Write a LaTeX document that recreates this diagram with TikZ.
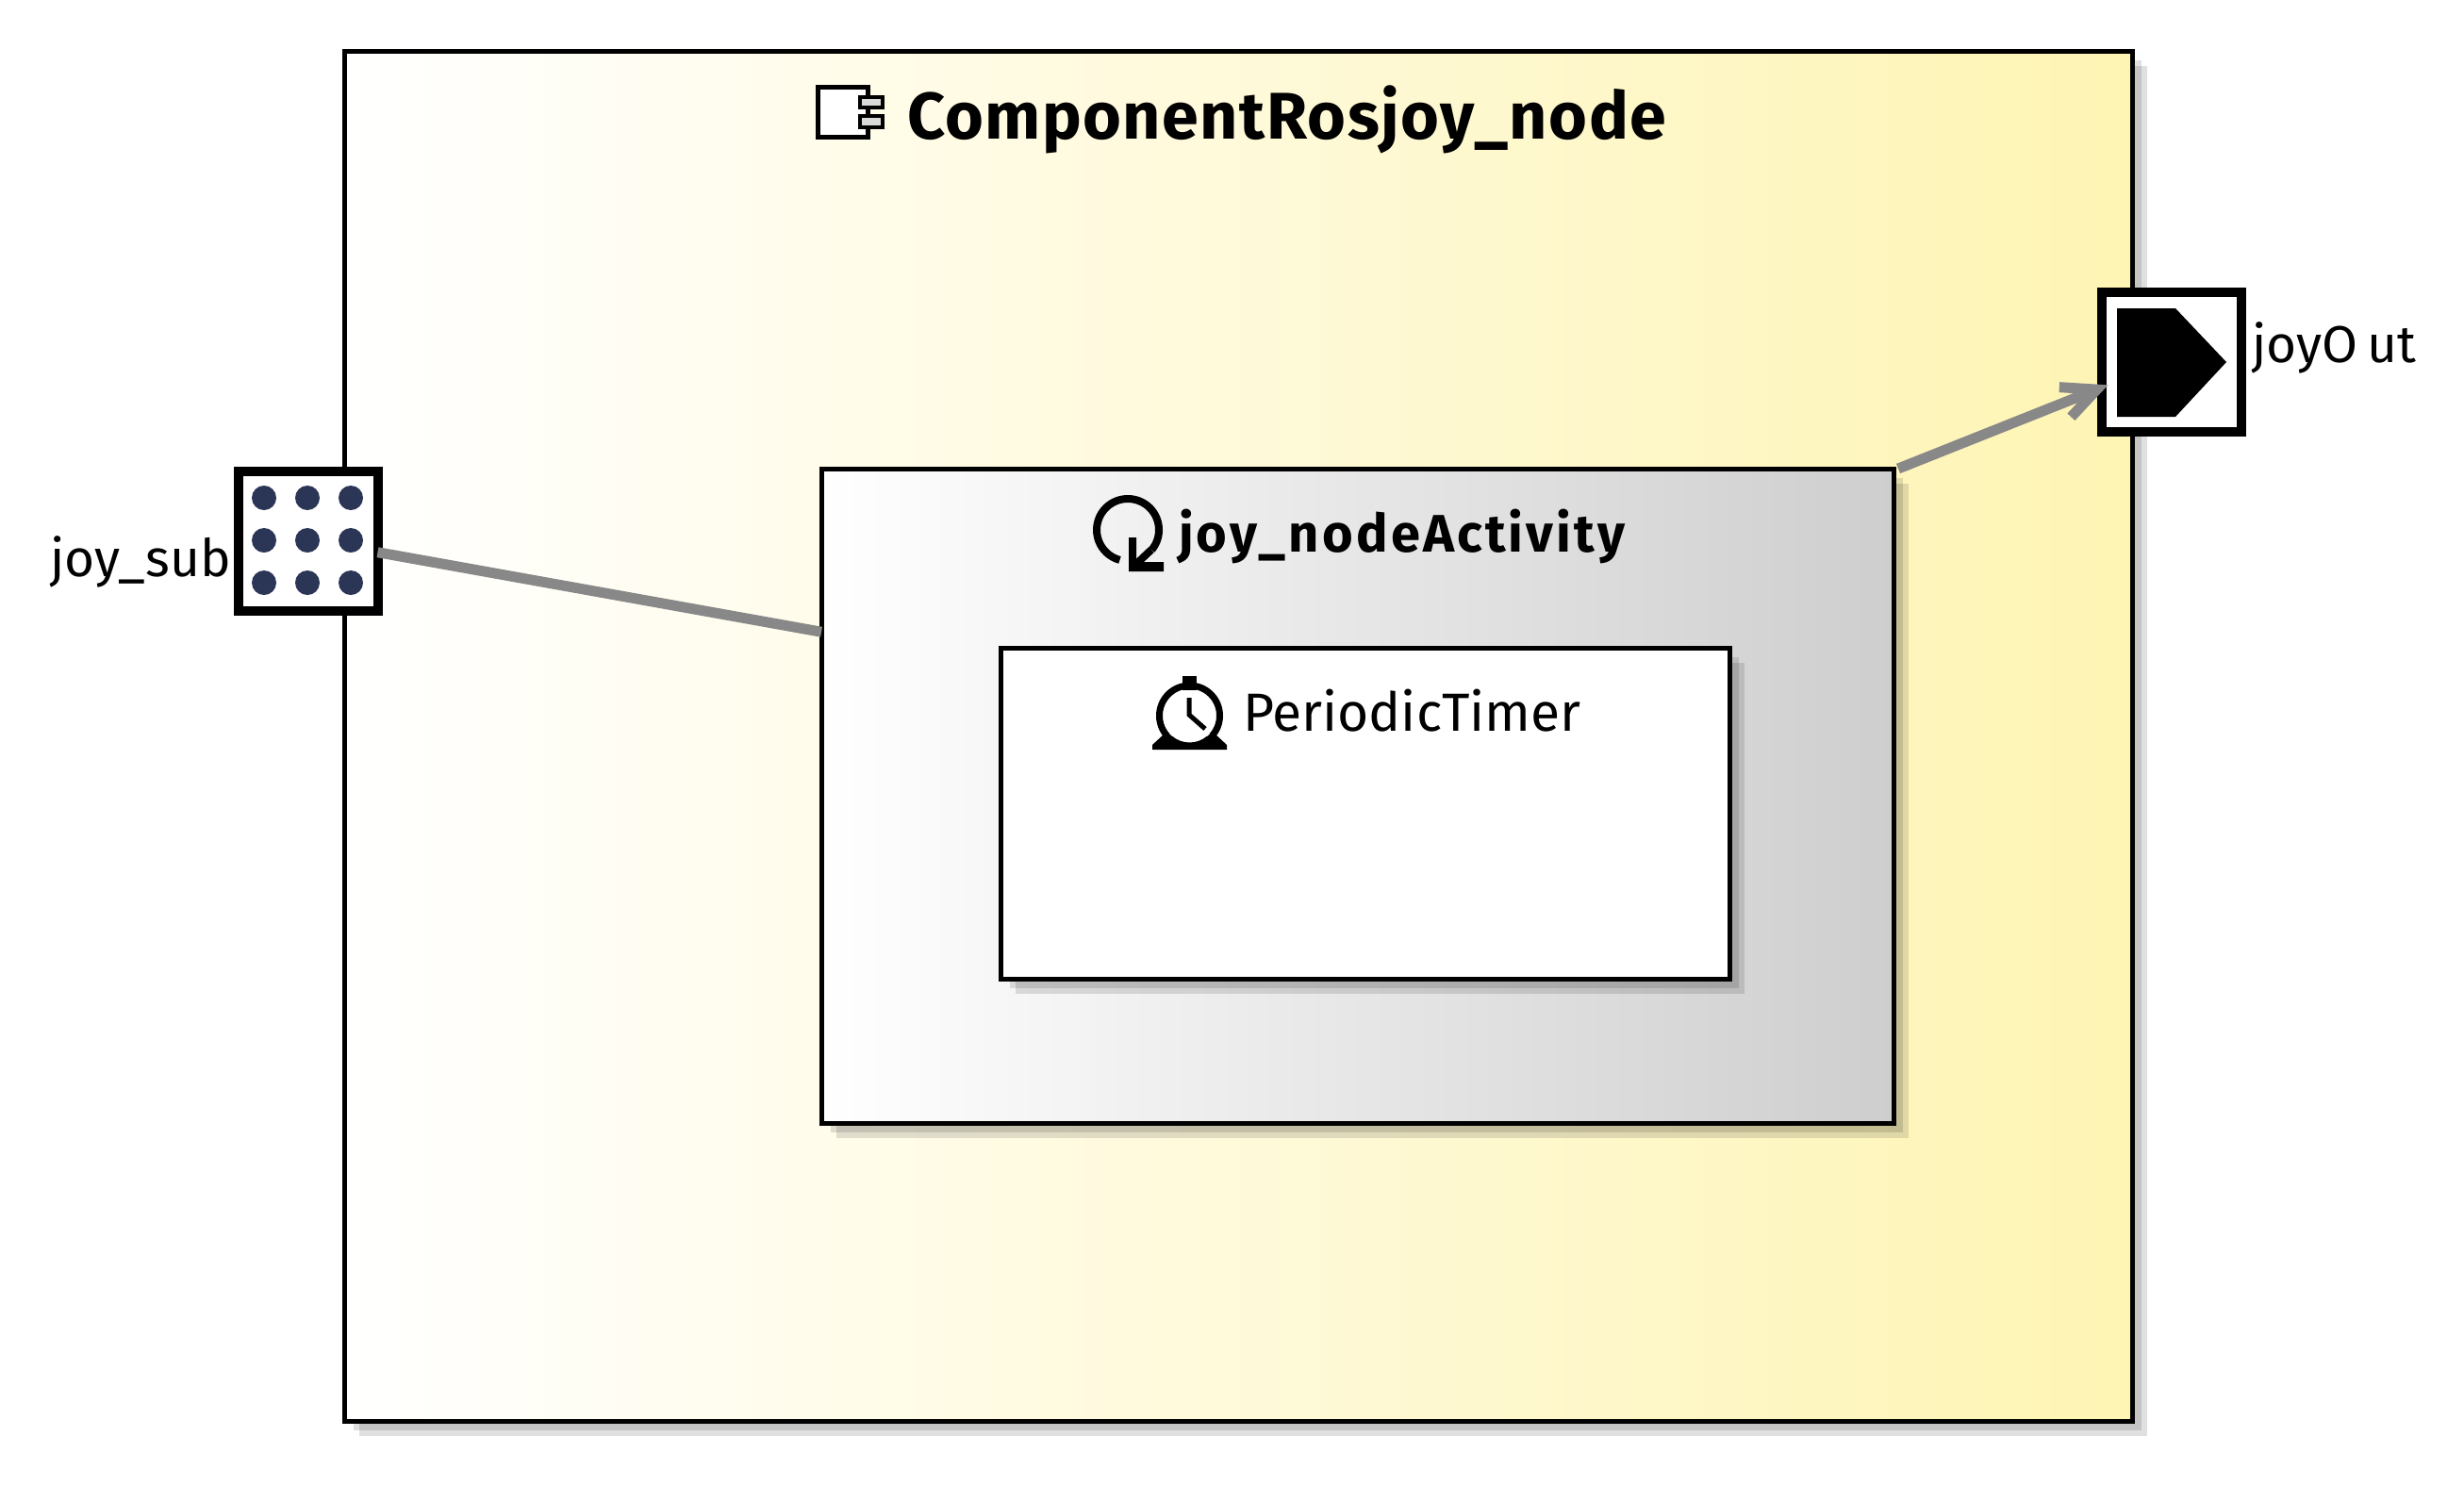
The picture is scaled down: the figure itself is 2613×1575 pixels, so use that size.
\documentclass[tikz,border=0pt]{standalone}
\usepackage{fontspec}
\setmainfont{Fira Sans}
\usetikzlibrary{arrows.meta,shadows}

\definecolor{compyellow}{HTML}{FEF4B3}
\definecolor{actgray}{HTML}{CECECE}
\definecolor{dotblue}{HTML}{2B3555}
\definecolor{connectgray}{HTML}{888888}

\begin{document}
\begin{tikzpicture}[x=1pt, y=1pt, >={Straight Barb[length=36pt,width=34pt]}]
\tikzstyle{every node}=[inner sep=0pt, outer sep=0pt]
\tikzstyle{boxshadow}=[general shadow={fill=black,fill opacity=.12,shadow xshift=16pt,shadow yshift=-16pt},
  general shadow={fill=black,fill opacity=.12,shadow xshift=10pt,shadow yshift=-10pt}]
\tikzstyle{box}=[rectangle, draw=black, boxshadow]
\tikzstyle{port}=[rectangle, draw=black, fill=white, minimum width=148pt, minimum height=148pt]
\tikzstyle{portlabel}=[anchor=base west, font=\fontsize{55}{60}\selectfont]
\tikzstyle{connect}=[draw=connectgray, line width=11pt]
\useasboundingbox (0,0) rectangle (2613,-1575);

\node[box, line width=5pt, left color=white, right color=compyellow, minimum width=1896pt, minimum height=1453pt] (component) at (1313,-780.5) {};
\node[box, line width=5pt, left color=white, right color=actgray, minimum width=1137pt, minimum height=694pt] (activity) at (1439.5,-844) {};
\node[box, line width=5pt, fill=white, minimum width=773pt, minimum height=351pt] (timer) at (1447.5,-862.5) {};
\node[port, line width=10pt] (joy_sub) at (326.5,-574) {};
\node[port, line width=10pt] (joyOut)  at (2303,-384) {};

\node[anchor=base west, font=\bfseries\fontsize{70}{80}\selectfont\addfontfeature{LetterSpace=2.1}] (component_label) at (962,-147) {ComponentRosjoy\_node};
\node[anchor=base west, font=\bfseries\fontsize{56}{60}\selectfont\addfontfeature{LetterSpace=5.6}] (activity_label) at (1250,-585) {joy\_nodeActivity};
\node[anchor=base west, font=\fontsize{57}{60}\selectfont] (timer_label) at (1318,-775) {PeriodicTimer};
\node[portlabel] (joy_sub_label) at (53,-611) {joy\_sub};
\node[portlabel] (joyOut_label)  at (2388,-384) {joyO\kern10pt ut};

% component icon
\draw[line width=5pt, fill=white] (867,-92) rectangle (920,-145);
\draw[line width=4pt, fill=white!85!black] (912,-103) rectangle (936,-114);
\draw[line width=4pt, fill=white!85!black] (912,-123) rectangle (936,-135);

% activity icon
\draw[line width=8pt] (1196,-562) ++(-40:33) arc (-40:255:33);
\draw[line width=8pt] (1221,-583) -- (1203,-600);
\fill (1197,-570) -- (1205,-570) -- (1205,-596) -- (1234,-596) -- (1234,-606) -- (1197,-606) -- cycle;

% timer icon
\draw[line width=7pt] (1261.5,-759) circle (32);
\fill (1254,-717) rectangle (1269,-732);
\draw[line width=5pt] (1261,-740) -- (1261,-758) -- (1278,-773);
\fill (1222,-795) -- (1301,-795) -- (1301,-790) -- (1288,-778) -- (1235,-778) -- (1222,-790) -- cycle;
\fill[white] (1240,-778) -- (1283,-778) -- (1273,-788) -- (1250,-788) -- cycle;
\draw[line width=7pt] (1261.5,-759) ++(-130:32) arc (-130:-50:32);

% port icons
\foreach \i in {280,326,372}
  \foreach \j in {-528,-573,-618}
    \fill[dotblue] (\i,\j) circle (13);
\fill (2245,-327) -- (2307,-327) -- (2361,-384) -- (2307,-442) -- (2245,-442) -- cycle;

\path
(joy_sub.-9)                     edge[connect]                    (activity.163)
([xshift=5pt]activity.north east) edge[connect,->,shorten >=-7pt] (joyOut.200);
\end{tikzpicture}
\end{document}
